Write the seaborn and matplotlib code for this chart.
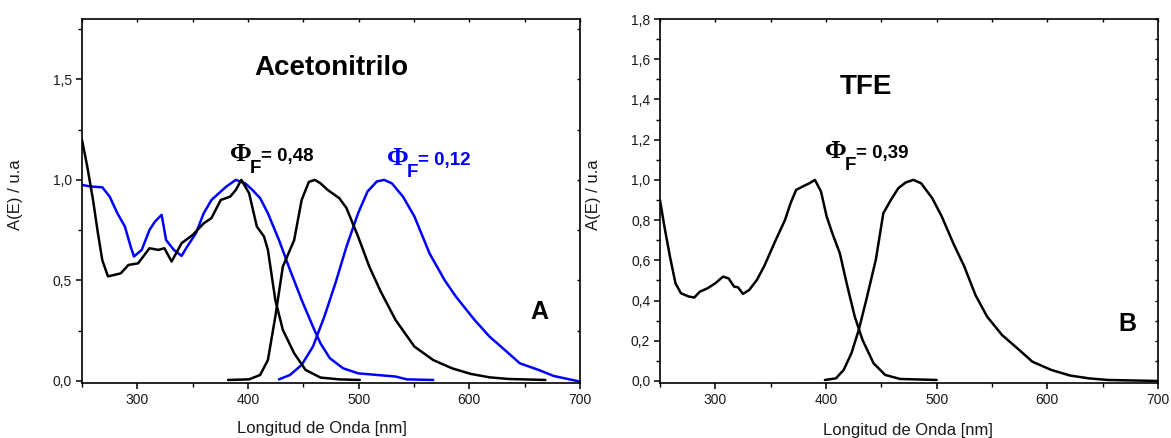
import matplotlib
matplotlib.use("Agg")
import matplotlib.pyplot as plt
import matplotlib.ticker as mticker
import seaborn as sns
import pandas as pd

# ---- Acetonitrilo (panel A) ----
acn_abs_black_x = [250, 254.8, 260, 264.4, 268.4, 273.5, 285, 292, 300.7, 311, 319, 324.5, 331, 340,
                   350, 360, 367, 375.4, 384, 389, 394, 401, 408, 414.5, 418, 424.7, 431.5, 441.7,
                   452, 465.5, 482.5, 501]
acn_abs_black_y = [1.20, 1.066, 0.90, 0.735, 0.60, 0.52, 0.535, 0.577, 0.585, 0.66, 0.652, 0.66, 0.594,
                   0.685, 0.726, 0.784, 0.81, 0.90, 0.917, 0.95, 1.0, 0.934, 0.768, 0.718, 0.652, 0.403,
                   0.254, 0.138, 0.055, 0.017, 0.008, 0.005]
acn_em_black_x = [382, 401, 411, 418, 424.7, 431.5, 441.7, 448.5, 455, 460.4, 465.5, 472, 482.5, 489,
                  499.5, 509.6, 520, 533.4, 550.4, 567.4, 584.4, 601.4, 618.4, 635.4, 668.7]
acn_em_black_y = [0.005, 0.008, 0.03, 0.104, 0.32, 0.569, 0.70, 0.90, 0.99, 1.0, 0.983, 0.95, 0.909,
                  0.86, 0.718, 0.569, 0.444, 0.303, 0.171, 0.104, 0.063, 0.035, 0.018, 0.01, 0.005]
acn_abs_blue_x = [250, 258, 268.4, 275, 282, 288.8, 294, 297, 304, 311, 316, 322, 326, 333, 340, 345,
                  353, 360, 367, 375.4, 380.5, 389, 397.5, 404, 411, 418, 428, 438, 448.5, 458.7,
                  465.5, 474, 486, 499.5, 516.4, 533.4, 543.6, 567.4]
acn_abs_blue_y = [0.975, 0.967, 0.963, 0.917, 0.834, 0.768, 0.668, 0.619, 0.652, 0.751, 0.793, 0.826,
                  0.701, 0.652, 0.622, 0.668, 0.735, 0.834, 0.90, 0.942, 0.967, 1.0, 0.983, 0.95, 0.909,
                  0.834, 0.701, 0.552, 0.403, 0.27, 0.187, 0.113, 0.063, 0.038, 0.03, 0.022, 0.008, 0.005]
acn_em_blue_x = [428, 438, 448.5, 458.7, 469, 479, 489, 499.5, 508, 516.4, 523, 530, 540, 550.4, 564,
                 577.6, 587.8, 604.8, 618.4, 635.4, 645.6, 662.6, 676.2, 686.3, 700]
acn_em_blue_y = [0.008, 0.03, 0.08, 0.171, 0.32, 0.486, 0.668, 0.834, 0.942, 0.992, 1.0, 0.983, 0.917,
                 0.818, 0.635, 0.502, 0.42, 0.303, 0.22, 0.138, 0.088, 0.055, 0.025, 0.013, -0.003]

# ---- TFE (panel B) ----
tfe_abs_x = [250, 254, 259, 264, 269, 276, 281, 286, 293, 300, 307, 312, 317, 320.5, 325, 330.7, 337.5,
             344, 354.6, 363, 368, 373, 380, 385, 390, 395.5, 400.6, 405.7, 412.5, 419.4, 426, 433,
             443, 453.5, 467, 500]
tfe_abs_y = [0.90, 0.768, 0.619, 0.486, 0.436, 0.42, 0.415, 0.444, 0.461, 0.486, 0.519, 0.51, 0.469,
             0.466, 0.433, 0.453, 0.502, 0.569, 0.701, 0.801, 0.884, 0.95, 0.97, 0.983, 1.0, 0.942,
             0.818, 0.735, 0.635, 0.469, 0.32, 0.204, 0.088, 0.03, 0.01, 0.005]
tfe_em_x = [399, 409, 416, 423, 429.6, 436.4, 445, 451.8, 458.6, 465.4, 472, 479, 486, 496, 504.6, 515,
            525, 535, 545.6, 559, 572.8, 586.5, 603.5, 620.6, 637.6, 654.7, 700]
tfe_em_y = [0.005, 0.013, 0.055, 0.138, 0.254, 0.403, 0.602, 0.834, 0.90, 0.959, 0.987, 1.0, 0.983,
            0.909, 0.818, 0.685, 0.569, 0.428, 0.32, 0.229, 0.163, 0.096, 0.055, 0.027, 0.013, 0.005, 0.0]

phi_acn_black = "0,48"
phi_acn_blue = "0,12"
phi_tfe = "0,39"

BLUE = "#0000ff"
BLACK = "#000000"
GREY = "#1a1a1a"

sns.set_theme(style="ticks")
plt.rcParams["font.family"] = ["Liberation Sans", "DejaVu Sans"]
plt.rcParams["axes.linewidth"] = 1.2
plt.rcParams["text.color"] = BLACK

fig = plt.figure(figsize=(11.71, 4.38), dpi=100)
axA = fig.add_axes([0.0700, 0.1256, 0.4253, 0.831])
axB = fig.add_axes([0.5636, 0.1256, 0.4253, 0.831])


def draw(ax, x, y, color):
    df = pd.DataFrame({"x": x, "y": y})
    sns.lineplot(data=df, x="x", y="y", ax=ax, color=color, lw=1.8, sort=False,
                 estimator=None, legend=False)


draw(axA, acn_abs_blue_x, acn_abs_blue_y, BLUE)
draw(axA, acn_em_blue_x, acn_em_blue_y, BLUE)
draw(axA, acn_abs_black_x, acn_abs_black_y, BLACK)
draw(axA, acn_em_black_x, acn_em_black_y, BLACK)
draw(axB, tfe_abs_x, tfe_abs_y, BLACK)
draw(axB, tfe_em_x, tfe_em_y, BLACK)

comma = mticker.FuncFormatter(lambda v, p: f"{v:.1f}".replace(".", ","))

for ax, major, minor in ((axA, 0.5, 0.25), (axB, 0.2, 0.1)):
    ax.set_xlim(250, 700)
    ax.set_ylim(-0.01, 1.8)
    ax.xaxis.set_major_locator(mticker.MultipleLocator(100))
    ax.xaxis.set_minor_locator(mticker.MultipleLocator(50))
    ax.yaxis.set_major_locator(mticker.MultipleLocator(major))
    ax.yaxis.set_minor_locator(mticker.MultipleLocator(minor))
    ax.yaxis.set_major_formatter(comma)
    ax.tick_params(axis="both", which="major", direction="out", length=4.5, width=1.1,
                   labelsize=10, pad=2.5, color=BLACK, labelcolor=GREY)
    ax.tick_params(axis="both", which="minor", direction="out", length=3, width=1.0, color=BLACK)
    for s in ax.spines.values():
        s.set_visible(True)
        s.set_color(BLACK)
    ax.set_xlabel("Longitud de Onda [nm]", fontsize=12, color=GREY)
    ax.set_ylabel("A(E) / u.a", fontsize=12, color=GREY)
    ax.yaxis.set_label_coords(-0.118, 0.516)
    ax.grid(False)

    # small inward ticks along the top and right frame
    top = ax.secondary_xaxis("top")
    top.xaxis.set_major_locator(mticker.MultipleLocator(50))
    top.tick_params(direction="in", length=2, width=1.0, labeltop=False, color=BLACK)
    right = ax.secondary_yaxis("right")
    right.yaxis.set_major_locator(mticker.MultipleLocator(minor))
    right.tick_params(direction="in", length=2, width=1.0, labelright=False, color=BLACK)
    for sec in (top, right):
        for s in sec.spines.values():
            s.set_visible(False)

axA.xaxis.set_label_coords(0.482, -0.105)
axB.xaxis.set_label_coords(0.498, -0.11)

# Titles and panel letters
axA.text(475, 1.557, "Acetonitrilo", fontsize=20, fontweight="bold", ha="center", va="center",
         color=BLACK)
axB.text(436, 1.46, "TFE", fontsize=20, fontweight="bold", ha="center", va="center", color=BLACK)
axA.text(663.5, 0.345, "A", fontsize=18, fontweight="bold", ha="center", va="center", color=BLACK)
axB.text(672.6, 0.285, "B", fontsize=18, fontweight="bold", ha="center", va="center", color=BLACK)

renderer = fig.canvas.get_renderer()


def phi_label(ax, x, y, value, color):
    t1 = ax.text(x, y, "\u03a6", fontsize=19, fontweight="bold", family="Liberation Serif",
                 color=color, va="baseline", ha="left")
    w1 = t1.get_window_extent(renderer).width * 72 / fig.dpi
    t2 = ax.annotate("F", xy=(x, y), xytext=(w1 - 1.0, -8.5), textcoords="offset points",
                     fontsize=13.5, fontweight="bold", color=color, va="baseline", ha="left")
    w2 = t2.get_window_extent(renderer).width * 72 / fig.dpi
    ax.annotate("= " + value, xy=(x, y), xytext=(w1 + w2 - 1.5, 0), textcoords="offset points",
                fontsize=13.5, fontweight="bold", color=color, va="baseline", ha="left")


phi_label(axA, 383.6, 1.095, phi_acn_black, BLACK)
phi_label(axA, 525.4, 1.075, phi_acn_blue, BLUE)
phi_label(axB, 399, 1.11, phi_tfe, BLACK)

fig.savefig("out.png", dpi=100)
